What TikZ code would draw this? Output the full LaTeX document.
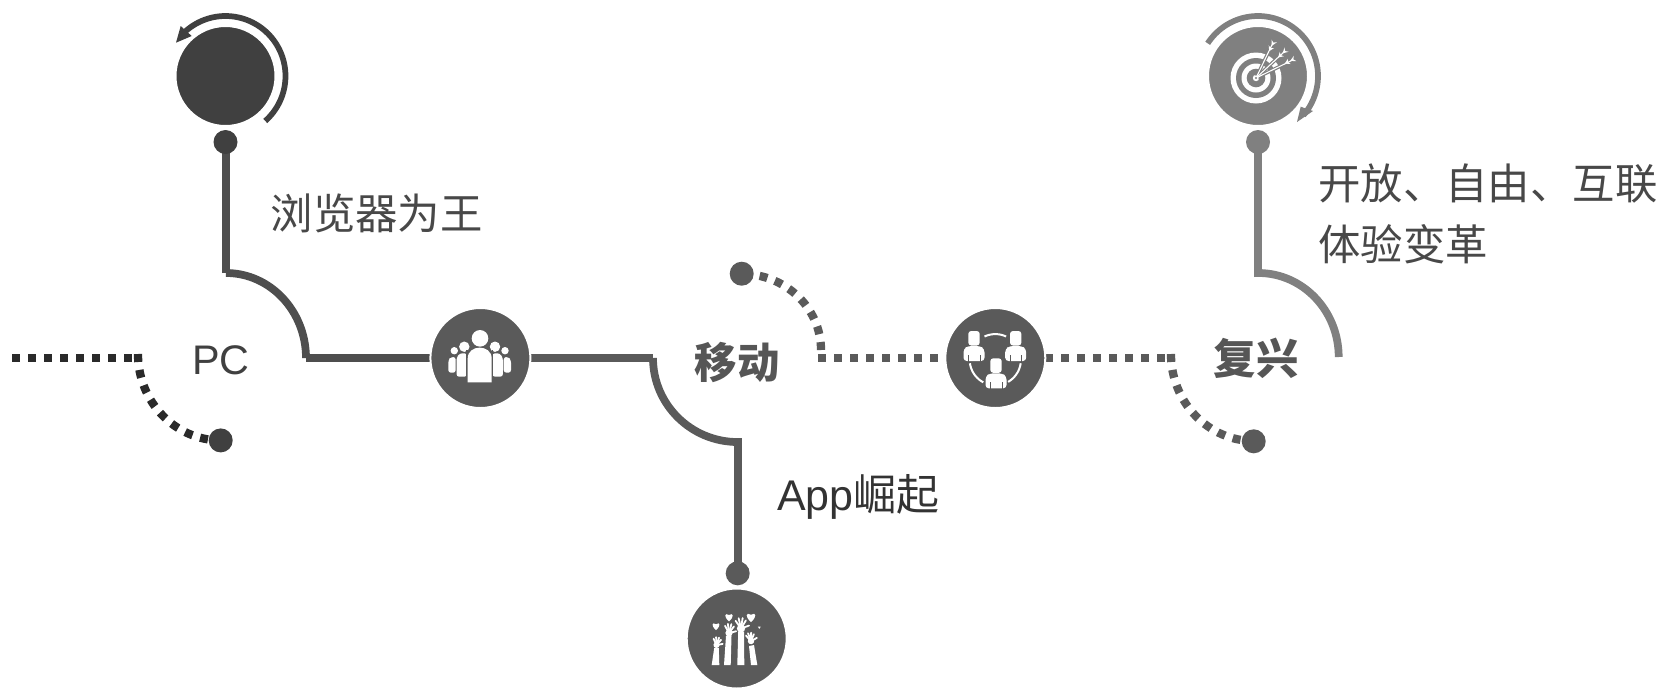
\documentclass[tikz,border=0pt]{standalone}
\usepackage{fontspec}
\setmainfont{Liberation Sans}
\newfontfamily\cjk{Noto Sans CJK SC}
\definecolor{cdark}{HTML}{404040}
\definecolor{cmid}{HTML}{5A5A5A}
\definecolor{cline}{HTML}{4E4E4E}
\definecolor{cgrey}{HTML}{808080}
\definecolor{cblack}{HTML}{2A2A2A}
\definecolor{ctext}{HTML}{484848}
\definecolor{ctitle}{HTML}{565656}
\definecolor{capp}{HTML}{333333}
\newcommand{\kapa}{0.5523}
\newcommand{\myheart}[3]{%
  \fill[white] (#1,{#2+#3}) .. controls ({#1-1.3*#3},{#2-0.1*#3}) and ({#1-1.0*#3},{#2-1.1*#3}) .. (#1,{#2-0.45*#3})
    .. controls ({#1+1.0*#3},{#2-1.1*#3}) and ({#1+1.3*#3},{#2-0.1*#3}) .. (#1,{#2+#3}) -- cycle;}
\newcommand{\myhand}[4]{%
  \begin{scope}[shift={(#1,#2)},rotate=#3]
    \fill[white] (0,0) circle ({3.6*#4});
    \foreach \a/\r in {-33/8.2,-11/9.2,11/9.2,33/8.2,72/7.4}{
      \draw[white,line width=1.35pt,line cap=round] (0,0) -- ({\r*#4*sin(\a)},{-\r*#4*cos(\a)});
    }
  \end{scope}}
\newcommand{\myfletch}[3]{%
  \begin{scope}[shift={(#1,#2)},rotate=#3]
    \fill[white] (0,2) -- (-3,-3.5) -- (0,-1.5) -- (3,-3.5) -- cycle;
    \fill[white] (0,8) -- (-3,3) -- (0,4.5) -- (3,3) -- cycle;
  \end{scope}}
\newcommand{\myperson}[2]{%
  \fill[white,rounded corners=2.2] ({#1-5.7},{#2-14}) rectangle ({#1+5.7},{#2+0.5});
  \fill[white,rounded corners=2.5] ({#1-10.5},{#2+16}) -- ({#1-10.5},{#2+4}) -- ({#1-6},{#2+1}) -- ({#1+6},{#2+1}) -- ({#1+10.5},{#2+4}) -- ({#1+10.5},{#2+16}) -- cycle;
  \fill[cmid] ({#1-6.1},{#2+10}) rectangle ({#1-5.5},{#2+16.5});
  \fill[cmid] ({#1+5.5},{#2+10}) rectangle ({#1+6.1},{#2+16.5});}
\tikzset{
  bigdisc/.style={circle,minimum size=75pt,inner sep=0pt,draw=white,line width=1.5pt,fill=#1},
  enddot/.style={circle,minimum size=18pt,inner sep=0pt,fill=#1},
  solidline/.style={line width=5.8pt,draw=#1},
  dotline/.style={line width=6.2pt,draw=#1,dash pattern=on 6pt off 6pt},
  turnline/.style={line width=4.3pt,draw=#1},
  label/.style={font=\cjk\fontsize{31.8pt}{36pt}\selectfont,text=ctext,inner sep=0pt},
  title/.style={font=\cjk\bfseries\fontsize{31.8pt}{36pt}\selectfont,text=ctitle,inner sep=0pt},
}
\begin{document}
\begin{tikzpicture}[x=0.75pt,y=-0.75pt]
\useasboundingbox (0,0) rectangle (1664,687);
\fill[white] (0,0) rectangle (1664,687);
% named points
\coordinate (leftEnd) at (12,358);
\coordinate (leftMid) at (133,358);
\coordinate (pcBend) at (226,273);
\coordinate (pcOut) at (306,358);
\coordinate (moIn) at (653,358);
\coordinate (moOut) at (737.7,442);
\coordinate (mdStart) at (818,358);
\coordinate (reIn) at (1165,358);
\coordinate (reBend) at (1258.3,273);
\coordinate (reOut) at (1338.7,357);
% dotted lines (under discs)
\draw[dotline=cblack] (leftEnd) -- (leftMid);
\draw[dotline=cblack] (138,354) .. controls (138,{354+86*\kapa}) and ({220.7-83*\kapa},440.4) .. (220.7,440.4);
\draw[dotline=cmid] (mdStart) -- (938,358);
\draw[dotline=cmid] (1045,358) -- (reIn);
\draw[dotline=cmid] (1171,354) .. controls (1171,{354+87*\kapa}) and ({1254-83*\kapa},441) .. (1254,441);
\draw[dotline=cmid] (821,350) .. controls (821,{350-76*\kapa}) and ({742+79*\kapa},274) .. (742,274);
% solid lines
\draw[solidline=cline] (pcBend) -- (226,142);
\draw[solidline=cline] (pcBend) .. controls ({226+80*\kapa},273) and (306,{358-85*\kapa}) .. (pcOut);
\draw[solidline=cline] (pcOut) -- (480,358);
\draw[solidline=cmid] (480,358) -- (moIn);
\draw[solidline=cmid,line cap=rect] (moIn) -- (653,358);
\draw[solidline=cmid] (moIn) .. controls (653,{358+84*\kapa}) and ({737.7-84.7*\kapa},442) .. (moOut);
\draw[solidline=cmid] (737.7,438) -- (737.7,573);
\draw[solidline=cgrey] (1258.3,277) -- (1258.3,142);
\draw[solidline=cgrey] (reBend) .. controls ({1258.3+80.4*\kapa},273) and (1338.7,{357-84*\kapa}) .. (reOut);
% discs and dots
\node[bigdisc=cdark] (pcDisc) at (225.5,76) {};
\node[enddot=cdark] (pcDot) at (225.5,142) {};
\node[bigdisc=cgrey] (reDisc) at (1258,76) {};
\node[enddot=cgrey] (reDot) at (1258,142) {};
\node[bigdisc=cmid] (peopleDisc) at (480.4,358) {};
\node[bigdisc=cmid] (groupDisc) at (995.3,358) {};
\node[bigdisc=cmid] (handDisc) at (736.7,638.5) {};
\node[enddot=cmid] (moDot) at (737.7,573.3) {};
\node[enddot=cdark] (pcLow) at (220.7,440.4) {};
\node[enddot=cmid] (mdDot) at (741.7,273.7) {};
\node[enddot=cmid] (reLow) at (1253.7,441.3) {};
% turn arrows
\draw[turnline=cdark] plot[domain=-48.5:136,samples=70] ({225.5+60*cos(\x)},{76-60*sin(\x)});
\fill[cdark] (176,42.7) -- (180.7,26) -- (191.7,36) -- cycle;
\draw[turnline=cgrey] plot[domain=147:-41,samples=70] ({1258+60*cos(\x)},{76-60*sin(\x)});
\fill[cgrey] (1297,122) -- (1300.7,106.7) -- (1313,111) -- cycle;
% target icon
\fill[white] (1256,78) circle (25.5);
\fill[cgrey] (1256,78) circle (20);
\fill[white] (1256,78) circle (14.5);
\fill[cgrey] (1256,78) circle (9.3);
\fill[white] (1256,78) circle (3.2);
\foreach \tx/\ty in {1272.7/43.3,1285/51,1292.7/60}{
  \draw[cgrey,line width=2.6pt] (1256,78) -- (\tx,\ty);
}
\foreach \tx/\ty in {1272.7/43.3,1285/51,1292.7/60}{
  \draw[white,line width=0.8pt] (1256,78) -- (\tx,\ty);
}
\myfletch{1272.7}{44}{-25.7}
\myfletch{1284}{52}{-47}
\myfletch{1292}{60}{-63.9}
\fill[white] (1256,78) circle (2.6);
\fill[cgrey] (1256,78) circle (1.1);
% people icon
\fill[white] (480,338.3) circle (8.3);
\fill[white] (464.3,346.7) circle (5.2);
\fill[white] (495,346.7) circle (5.2);
\fill[white] (454.3,350.7) circle (3.7);
\fill[white] (505,350.7) circle (3.7);
\fill[white,rounded corners=2] (448.3,372.7) -- (448.3,360) -- (451,357) -- (455.7,357) -- (455.7,372.7) -- cycle;
\fill[white,rounded corners=2] (511,372.7) -- (511,360) -- (508.3,357) -- (503.7,357) -- (503.7,372.7) -- cycle;
\fill[white,rounded corners=2] (456.5,376.7) -- (456.5,358) -- (459.5,353.3) -- (467,353.3) -- (467,376.7) -- cycle;
\fill[white,rounded corners=2] (502.9,376.7) -- (502.9,358) -- (499.9,353.3) -- (492.4,353.3) -- (492.4,376.7) -- cycle;
\fill[cmid] (466,350) rectangle (467.7,380);
\fill[cmid] (491.7,350) rectangle (493.4,380);
\fill[white] (467.7,382.3) -- (467.7,358.5) .. controls (467.7,344) and (491.7,344) .. (491.7,358.5) -- (491.7,382.3) -- cycle;
% group icon
\draw[white,line width=1.5pt] plot[domain=65:115,samples=16] ({995.3+25.6*cos(\x)},{359.7-25.6*sin(\x)});
\draw[white,line width=1.5pt] plot[domain=188:242,samples=16] ({995.3+25.6*cos(\x)},{359.7-25.6*sin(\x)});
\draw[white,line width=1.5pt] plot[domain=-8:-60,samples=16] ({995.3+25.6*cos(\x)},{359.7-25.6*sin(\x)});
\myperson{974}{345}
\myperson{1015.7}{345}
\myperson{996}{372.3}
% hands icon
\fill[white] (711.7,665) -- (714.2,648) -- (718.8,648) -- (719.3,665) -- cycle;
\fill[white] (724,665) -- (726,636) -- (731.5,636) -- (730.7,665) -- cycle;
\fill[white] (737.3,665) -- (738.2,632) -- (744,632) -- (744.3,665) -- cycle;
\fill[white] (751,665) -- (749,646) -- (754,645) -- (757.3,665) -- cycle;
\myhand{716.5}{645}{-8}{0.85}
\myhand{729}{633}{-4}{1.0}
\myhand{741}{628.5}{2}{1.15}
\myhand{751}{641}{10}{0.9}
\myheart{729}{617}{4.3}
\myheart{751}{617}{5}
\myheart{716}{626}{4}
\myheart{759.3}{627.3}{1.6}
% texts
\node[font=\fontsize{31pt}{36pt}\selectfont,text=cdark,inner sep=0pt] (pcText) at (221,360) {PC};
\node[title] (moText) at (737.3,362) {移动};
\node[title] (reText) at (1256,358) {复兴};
\node[label] (browser) at (376.7,213.3) {浏览器为王};
\node[label,anchor=west] (open) at (1318,183.6) {开放、自由、互联};
\node[label,anchor=west] (exp) at (1318,244) {体验变革};
\node[label,anchor=west,text=capp,font=\fontsize{32.2pt}{36pt}\selectfont] (app) at (777,497) {App{\cjk 崛起}};
\end{tikzpicture}
\end{document}
